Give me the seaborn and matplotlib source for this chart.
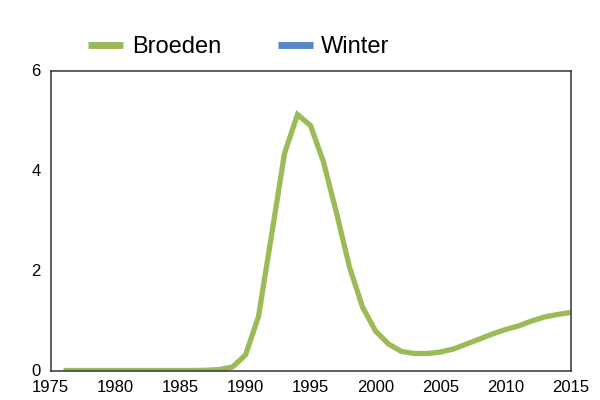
import matplotlib
matplotlib.use("Agg")
import matplotlib.pyplot as plt
from matplotlib.lines import Line2D
import seaborn as sns
import pandas as pd
import numpy as np

years = list(range(1976, 2016))
broeden = [0, 0, 0, 0, 0, 0, 0, 0, 0, 0, 0, 0.005, 0.02, 0.07, 0.31, 1.08, 2.7, 4.34,
           5.12, 4.9, 4.17, 3.15, 2.07, 1.27, 0.79, 0.53, 0.38, 0.34, 0.34, 0.37, 0.43,
           0.53, 0.63, 0.73, 0.82, 0.89, 0.99, 1.07, 1.12, 1.16]
series_names = ["Broeden", "Winter"]
colors = ["#9bbb59", "#5b87c9"]
x_ticks = [1975, 1980, 1985, 1990, 1995, 2000, 2005, 2010, 2015]
y_ticks = [0, 2, 4, 6]

sns.set_theme(style="white")
plt.rcParams['font.family'] = ['Liberation Sans', 'DejaVu Sans']
plt.rcParams['text.color'] = 'black'

df = pd.DataFrame({"year": years, "value": broeden})

fig = plt.figure(figsize=(6, 4), dpi=100)
ax = fig.add_axes([50.5/600, 1 - 370.5/400, 520/600, 300/400])
sns.lineplot(data=df, x="year", y="value", ax=ax, color=colors[0], linewidth=3.8,
             solid_joinstyle="miter", solid_capstyle="butt")

ax.set_xlim(1975, 2015)
ax.set_ylim(0, 6)
ax.set_xticks(x_ticks)
ax.set_yticks(y_ticks)
ax.set_xticklabels([str(t) for t in x_ticks], fontsize=12)
ax.set_yticklabels([str(t) for t in y_ticks], fontsize=12)
ax.set_xlabel("")
ax.set_ylabel("")
ax.tick_params(axis="both", length=0, pad=7, colors="black")
for s in ax.spines.values():
    s.set_color("#333333")
    s.set_linewidth(1.1)
    s.set_visible(True)

handles = [Line2D([0], [0], color=c, linewidth=5, solid_capstyle="butt") for c in colors]
leg = fig.legend(handles, series_names, loc="center left", bbox_to_anchor=(88/600, 1 - 47/400),
                 ncol=2, frameon=False, fontsize=17, handlelength=1.5, handletextpad=0.35,
                 columnspacing=2.4, borderpad=0, borderaxespad=0)
for t in leg.get_texts():
    t.set_color("black")

fig.savefig("out.png", dpi=100)
